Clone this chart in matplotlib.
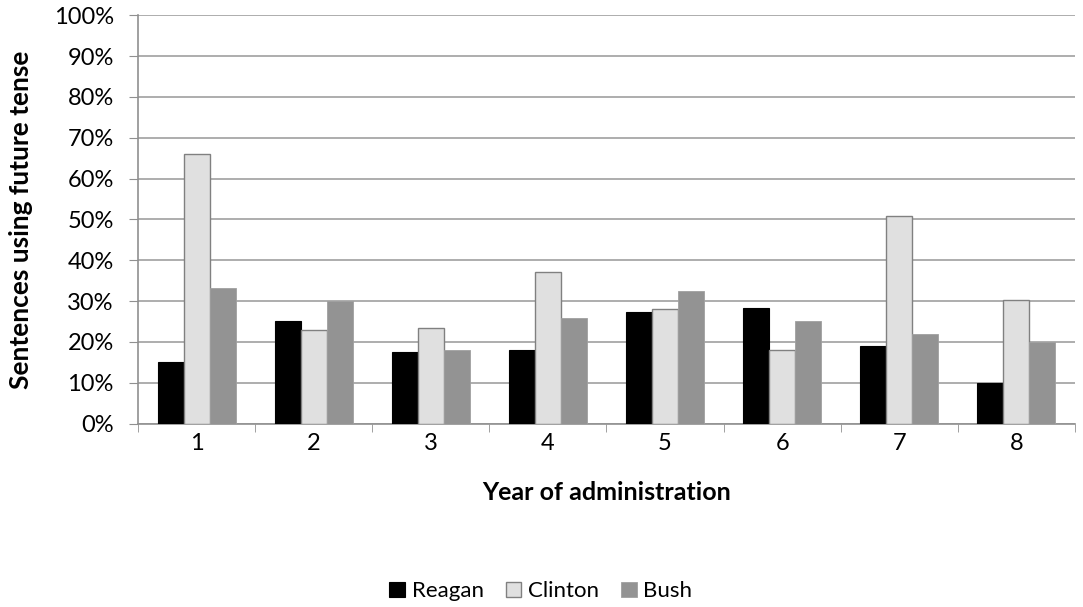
import numpy as np
import matplotlib; matplotlib.use("Agg")
import matplotlib.pyplot as plt
from matplotlib.ticker import PercentFormatter

plt.rcParams["font.family"] = ["Lato", "DejaVu Sans"]

years = ["1", "2", "3", "4", "5", "6", "7", "8"]
reagan = [15.0, 25.2, 17.5, 18.1, 27.3, 28.3, 19.0, 9.9]
clinton = [66.0, 22.9, 23.5, 37.1, 28.0, 18.1, 50.9, 30.2]
bush = [33.1, 30.0, 18.0, 25.8, 32.6, 25.1, 21.9, 20.0]

fig = plt.figure(figsize=(10.83, 6.07), dpi=100)
ax = fig.add_axes([0.1274, 0.302, 0.8652, 0.673])

x = np.arange(len(years))
w = 0.222
ax.bar(x - w, reagan, w, color="black", edgecolor="black", lw=0.8, label="Reagan", zorder=3)
ax.bar(x, clinton, w, color="#e0e0e0", edgecolor="#808080", lw=1.0, label="Clinton", zorder=3)
ax.bar(x + w, bush, w, color="#939393", edgecolor="#a0a0a0", lw=0.6, label="Bush", zorder=3)

ax.set_xlim(-0.5, len(years) - 0.5)
ax.set_ylim(0, 100)
ax.set_yticks(np.arange(0, 101, 10))
ax.yaxis.set_major_formatter(PercentFormatter(decimals=0))
ax.set_xticks(x)
ax.set_xticklabels(years)
ax.set_xticks(np.arange(-0.5, len(years)), minor=True)
ax.tick_params(axis="x", which="major", length=0, pad=7, labelsize=17)
ax.tick_params(axis="x", which="minor", length=6, color="#909090", direction="out")
ax.tick_params(axis="y", length=6.5, color="#909090", labelsize=17, pad=11)
ax.grid(axis="y", color="#a0a0a0", lw=1.2, zorder=0)
for s in ["top", "right"]:
    ax.spines[s].set_visible(False)
for s in ["left", "bottom"]:
    ax.spines[s].set_color("#909090")
    ax.spines[s].set_linewidth(1.2)

ax.set_ylabel("Sentences using future tense", fontsize=19, fontweight="bold", labelpad=15)
ax.set_xlabel("Year of administration", fontsize=18, fontweight="bold", labelpad=19)

ax.legend(loc="center", bbox_to_anchor=(0.43, -0.41), ncol=3, frameon=False,
          fontsize=16, handlelength=0.7, handleheight=0.7, handletextpad=0.3, columnspacing=1.0)

fig.savefig("out.png", dpi=100)
